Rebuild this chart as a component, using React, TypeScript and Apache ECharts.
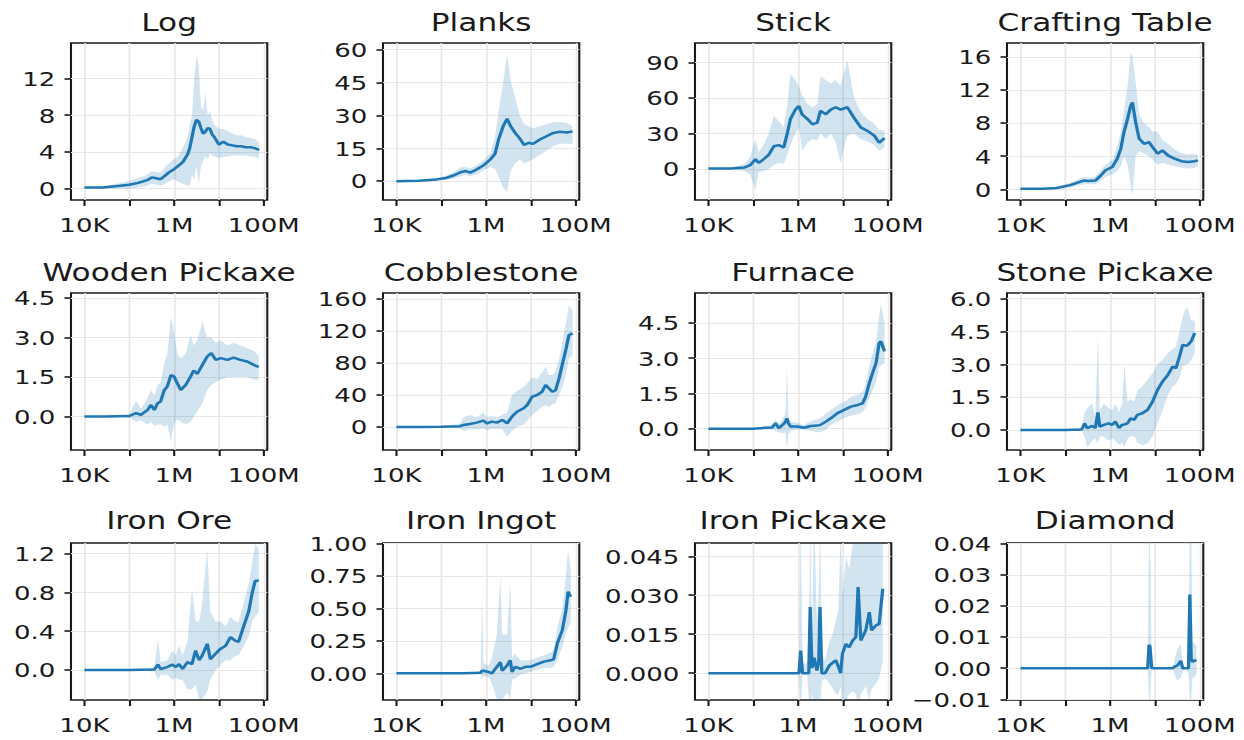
import React, { useEffect, useRef } from "react";
import * as echarts from "echarts";

// ---------- DATA (x values are log10 of environment steps) ----------
const titles = [
  "Log", "Planks", "Stick", "Crafting Table",
  "Wooden Pickaxe", "Cobblestone", "Furnace", "Stone Pickaxe",
  "Iron Ore", "Iron Ingot", "Iron Pickaxe", "Diamond",
];

const xLimits = [3.7, 8.08];
const xTickValues = [4, 5, 6, 7, 8];
const xLabelValues = [4, 6, 8];
const xLabelTexts = ["10K", "1M", "100M"];

// Log
const xLog = [4.0, 4.4, 4.8, 5.0, 5.2, 5.4, 5.5, 5.6, 5.7, 5.8, 5.9, 6.0, 6.1, 6.2, 6.3, 6.35, 6.4, 6.45, 6.5, 6.55, 6.6, 6.65, 6.7, 6.75, 6.8, 6.85, 6.9, 7.0, 7.1, 7.2, 7.3, 7.4, 7.5, 7.6, 7.7, 7.8, 7.9];
const meanLog = [0.1, 0.1, 0.3, 0.4, 0.6, 0.9, 1.2, 1.1, 1.0, 1.4, 1.8, 2.1, 2.5, 2.9, 3.7, 4.4, 5.6, 6.8, 7.5, 7.3, 6.6, 6.0, 6.2, 6.6, 6.5, 5.9, 5.6, 4.8, 5.1, 4.8, 4.7, 4.6, 4.6, 4.5, 4.5, 4.4, 4.2];
const loLog = [0.0, 0.0, 0.0, 0.0, 0.1, 0.3, 0.5, 0.4, 0.3, 0.5, 0.8, 1.0, 0.7, 0.5, 0.3, 0.2, 1.5, 1.0, 2.5, 0.5, 2.5, 3.0, 3.5, 3.2, 3.8, 3.6, 3.5, 3.3, 3.4, 3.5, 3.6, 3.6, 3.6, 3.6, 3.5, 3.4, 3.3];
const hiLog = [0.2, 0.2, 0.6, 0.8, 1.1, 1.5, 1.9, 1.8, 1.7, 2.3, 2.8, 3.2, 3.6, 4.5, 5.5, 7.0, 8.0, 12.0, 14.5, 13.5, 9.0, 8.5, 10.5, 8.0, 8.5, 7.5, 7.0, 6.5, 6.5, 6.3, 6.0, 5.8, 5.8, 5.6, 5.5, 5.4, 5.0];

// Planks
const xPlanks = [4.0, 4.5, 4.9, 5.1, 5.3, 5.45, 5.55, 5.65, 5.8, 5.95, 6.1, 6.2, 6.28, 6.38, 6.47, 6.55, 6.65, 6.75, 6.85, 6.95, 7.05, 7.2, 7.35, 7.5, 7.65, 7.8, 7.93];
const meanPlanks = [0.0, 0.2, 0.8, 1.4, 2.8, 4.2, 4.6, 3.9, 5.4, 7.3, 10, 12.5, 19, 25, 28.5, 25, 22, 19.5, 16.5, 17.5, 17, 19, 20.5, 22, 22.5, 22.2, 22.7];
const loPlanks = [0, 0, 0.2, 0.6, 1.2, 2.2, 2.8, 2.2, 3.2, 5.0, 6.5, 5.5, 2, -3, -5, 5, 8, 10, 8, 9, 10, 12, 14, 16, 17, 17, 17];
const hiPlanks = [0.3, 0.5, 1.5, 2.4, 4.5, 6.5, 6.5, 5.8, 7.5, 9.8, 13, 20, 32, 45, 58, 46, 38, 30, 26, 25, 24, 25, 26, 27, 27, 26.5, 25];

// Stick
const xStick = [4.0, 4.5, 4.8, 4.93, 5.05, 5.12, 5.23, 5.35, 5.46, 5.57, 5.68, 5.76, 5.83, 5.94, 6.02, 6.09, 6.21, 6.32, 6.43, 6.5, 6.62, 6.73, 6.84, 6.95, 7.1, 7.25, 7.4, 7.55, 7.7, 7.81, 7.93];
const meanStick = [0.2, 0.3, 1.0, 3, 8, 5, 8, 12, 19, 20, 18, 30, 42, 50, 53, 46, 42, 37.5, 39, 49, 46, 50, 52, 50, 52, 43, 35, 32, 28, 22, 26];
const loStick = [0, 0, -2, -5, -18, -3, -2, 0, 3, 5, 4, 12, 20, 30, 35, 15, 22, 25, 24, 30, 25, 30, 22, 5, 28, 30, 25, 23, 20, 15, 18];
const hiStick = [0.5, 0.8, 4, 10, 25, 14, 20, 30, 45, 40, 35, 55, 80, 75, 70, 62, 55, 52, 55, 78, 75, 72, 75, 70, 92, 60, 48, 42, 38, 33, 32];

// Crafting Table
const xTable = [4.0, 4.5, 4.81, 5.11, 5.41, 5.52, 5.67, 5.79, 5.9, 6.05, 6.16, 6.24, 6.31, 6.39, 6.46, 6.5, 6.57, 6.65, 6.76, 6.87, 6.95, 7.06, 7.17, 7.29, 7.44, 7.59, 7.74, 7.89, 7.96];
const meanTable = [0.05, 0.05, 0.15, 0.5, 1.05, 1.0, 1.05, 1.65, 2.3, 2.7, 3.7, 4.9, 6.9, 8.5, 10.1, 10.5, 8.1, 6.1, 5.5, 5.7, 5.1, 4.3, 4.7, 4.1, 3.7, 3.4, 3.3, 3.4, 3.5];
const loTable = [0, 0, 0, 0.2, 0.6, 0.6, 0.6, 1.0, 1.5, 1.8, 2.2, 2.8, 4.0, 3.0, 0.5, -0.8, 4.0, 4.6, 4.3, 4.0, 3.6, 3.0, 3.2, 3.0, 2.8, 2.6, 2.5, 2.6, 2.8];
const hiTable = [0.1, 0.1, 0.3, 0.8, 1.5, 1.4, 1.5, 2.3, 3.0, 3.5, 5.3, 7.0, 9.5, 12.5, 16.5, 16.0, 13.0, 9.0, 8.0, 7.5, 7.0, 7.0, 6.0, 5.5, 4.8, 4.4, 4.2, 4.3, 4.2];

// Wooden Pickaxe
const xWood = [4.0, 4.5, 5.0, 5.15, 5.26, 5.41, 5.48, 5.56, 5.63, 5.7, 5.78, 5.85, 5.93, 6.0, 6.07, 6.15, 6.26, 6.37, 6.44, 6.52, 6.63, 6.74, 6.83, 6.93, 7.04, 7.19, 7.33, 7.48, 7.63, 7.78, 7.89];
const meanWood = [0, 0, 0.02, 0.13, 0.06, 0.25, 0.44, 0.25, 0.5, 0.57, 1.0, 1.14, 1.58, 1.52, 1.27, 1.01, 1.2, 1.52, 1.75, 1.62, 1.96, 2.28, 2.41, 2.15, 2.22, 2.15, 2.24, 2.15, 2.09, 1.96, 1.88];
const loWood = [0, 0, -0.05, -0.2, -0.15, -0.3, -0.2, -0.35, -0.3, -0.3, -0.4, -0.3, -0.95, -0.3, -0.1, -0.2, -0.3, -0.2, 0.0, 0.2, 0.5, 1.0, 1.2, 1.3, 1.4, 1.5, 1.5, 1.5, 1.5, 1.4, 1.4];
const hiWood = [0.02, 0.03, 0.1, 0.6, 0.3, 0.7, 1.0, 0.8, 1.2, 1.3, 2.0, 2.4, 3.8, 3.2, 2.4, 2.2, 2.4, 3.1, 2.7, 2.9, 3.6, 3.0, 3.0, 2.8, 2.9, 2.7, 2.8, 2.7, 2.6, 2.5, 2.3];

// Cobblestone
const xCobble = [4.0, 4.5, 5.0, 5.42, 5.5, 5.64, 5.79, 5.94, 6.02, 6.13, 6.24, 6.36, 6.47, 6.58, 6.69, 6.84, 6.92, 7.03, 7.14, 7.25, 7.33, 7.4, 7.48, 7.55, 7.63, 7.7, 7.78, 7.85, 7.93];
const meanCobble = [0, 0, 0.3, 1.0, 2.5, 3.8, 5.4, 8, 4.6, 6.7, 5.4, 8.8, 4.6, 13, 19, 23.4, 27.6, 38, 40, 44, 52.6, 48.5, 44, 46, 61, 77.7, 96.5, 115, 117];
const loCobble = [0, 0, -0.5, -2, -5, -3, -3, -2, -4, -2, -3, -3, -12, -5, 0, 3, 8, 15, 20, 25, 27, 25, 28, 30, 40, 50, 65, 85, 90];
const hiCobble = [0.3, 0.5, 1.5, 4, 12, 15, 12, 18, 12, 14, 12, 15, 18, 40, 45, 50, 55, 62, 60, 68, 75, 65, 65, 70, 85, 105, 130, 152, 145];

// Furnace
const xFurnace = [4.0, 4.5, 5.0, 5.42, 5.5, 5.57, 5.68, 5.72, 5.75, 5.78, 5.83, 5.98, 6.13, 6.28, 6.43, 6.5, 6.62, 6.73, 6.88, 7.03, 7.18, 7.33, 7.44, 7.51, 7.59, 7.66, 7.74, 7.81, 7.85, 7.93];
const meanFurnace = [0, 0, 0, 0.05, 0.23, 0.02, 0.2, 0.3, 0.44, 0.25, 0.09, 0.09, 0.04, 0.11, 0.13, 0.16, 0.3, 0.44, 0.66, 0.8, 0.94, 1.01, 1.08, 1.37, 1.94, 2.36, 2.79, 3.65, 3.72, 3.29];
const loFurnace = [0, 0, 0, -0.05, -0.1, -0.15, -0.2, -0.15, -0.91, -0.25, -0.1, -0.05, -0.05, -0.1, -0.15, -0.15, -0.05, 0.15, 0.3, 0.45, 0.55, 0.6, 0.7, 0.9, 1.3, 1.6, 2.0, 2.6, 2.7, 2.8];
const hiFurnace = [0, 0, 0.02, 0.15, 0.4, 0.2, 0.5, 0.6, 2.6, 0.6, 0.3, 0.25, 0.15, 0.3, 0.4, 0.45, 0.65, 0.8, 1.0, 1.15, 1.35, 1.45, 1.55, 1.9, 2.7, 3.2, 3.7, 4.8, 5.3, 4.5];

// Stone Pickaxe
const xStone = [4.0, 4.5, 5.0, 5.37, 5.43, 5.49, 5.6, 5.67, 5.73, 5.77, 5.86, 5.97, 6.05, 6.12, 6.2, 6.27, 6.32, 6.39, 6.46, 6.54, 6.61, 6.72, 6.84, 6.95, 7.06, 7.17, 7.29, 7.4, 7.47, 7.55, 7.62, 7.7, 7.74, 7.81, 7.89];
const meanStone = [0, 0, 0, 0.02, 0.3, 0.08, 0.18, 0.08, 0.8, 0.15, 0.23, 0.3, 0.23, 0.38, 0.08, 0.23, 0.25, 0.3, 0.53, 0.46, 0.69, 0.76, 0.92, 1.3, 1.83, 2.21, 2.52, 2.9, 2.82, 3.36, 3.89, 3.85, 3.89, 4.05, 4.43];
const loStone = [0, 0, 0, -0.05, -0.3, -0.8, -0.5, -0.4, -0.6, -0.3, -0.3, -0.5, -0.4, -0.5, -0.7, -0.6, -0.8, -0.4, -0.3, -0.3, -0.6, -0.7, -0.6, -0.3, 0.3, 0.9, 1.6, 2.0, 2.1, 2.4, 2.9, 3.0, 3.0, 3.2, 3.5];
const hiStone = [0, 0, 0.02, 0.1, 0.8, 1.0, 1.2, 0.6, 4.3, 0.9, 1.2, 1.0, 0.9, 1.2, 0.8, 1.2, 3.0, 1.3, 1.4, 1.3, 1.8, 2.0, 2.3, 2.6, 3.0, 3.2, 3.5, 3.7, 3.8, 4.5, 5.2, 5.6, 5.5, 5.0, 5.0];

// Iron Ore
const xOre = [4.0, 4.5, 5.0, 5.56, 5.64, 5.7, 5.85, 5.96, 6.04, 6.11, 6.19, 6.3, 6.4, 6.48, 6.56, 6.63, 6.74, 6.81, 6.93, 7.04, 7.15, 7.26, 7.37, 7.44, 7.56, 7.67, 7.74, 7.81, 7.89];
const meanOre = [0, 0, 0, 0.005, 0.055, 0.01, 0.03, 0.055, 0.03, 0.06, 0.01, 0.08, 0.06, 0.2, 0.1, 0.15, 0.27, 0.11, 0.17, 0.22, 0.25, 0.34, 0.3, 0.29, 0.46, 0.61, 0.79, 0.92, 0.92];
const loOre = [0, 0, 0, -0.01, -0.1, -0.05, -0.05, -0.1, -0.08, -0.1, -0.1, -0.2, -0.2, -0.15, -0.3, -0.3, -0.22, -0.1, 0.0, 0.05, 0.1, 0.1, 0.15, 0.15, 0.25, 0.35, 0.5, 0.55, 0.6];
const hiOre = [0, 0, 0, 0.02, 0.32, 0.08, 0.1, 0.2, 0.15, 0.25, 0.15, 0.3, 0.85, 0.5, 0.5, 0.7, 1.25, 0.6, 0.5, 0.5, 0.45, 0.55, 0.5, 0.5, 0.7, 0.9, 1.1, 1.3, 1.25];

// Iron Ingot
const xIngot = [4.0, 4.5, 5.0, 5.5, 5.88, 5.91, 5.94, 6.06, 6.13, 6.24, 6.32, 6.36, 6.47, 6.54, 6.58, 6.65, 6.77, 6.88, 6.99, 7.14, 7.29, 7.44, 7.51, 7.59, 7.7, 7.78, 7.83, 7.89];
const meanIngot = [0, 0, 0, 0, 0.005, 0.02, 0.02, 0.01, 0, 0.05, 0.085, 0.02, 0.06, 0.1, 0.01, 0.05, 0.035, 0.05, 0.05, 0.07, 0.09, 0.1, 0.11, 0.23, 0.33, 0.48, 0.63, 0.59];
const loIngot = [0, 0, 0, 0, -0.01, -0.05, -0.02, -0.03, -0.08, -0.2, -0.2, -0.2, -0.15, -0.2, -0.05, -0.04, -0.01, 0, 0.01, 0.03, 0.04, 0.04, 0.05, 0.1, 0.2, 0.3, 0.35, 0.4];
const hiIngot = [0, 0, 0, 0, 0.02, 0.6, 0.08, 0.06, 0.12, 0.3, 0.75, 0.3, 0.3, 0.7, 0.12, 0.15, 0.1, 0.1, 0.1, 0.12, 0.14, 0.16, 0.18, 0.35, 0.5, 0.75, 0.95, 0.8];

// Iron Pickaxe
const xIronPick = [4.0, 4.5, 5.0, 5.5, 6.02, 6.06, 6.1, 6.2, 6.24, 6.27, 6.31, 6.36, 6.42, 6.46, 6.49, 6.53, 6.6, 6.7, 6.77, 6.84, 6.9, 6.95, 6.99, 7.07, 7.14, 7.22, 7.29, 7.34, 7.4, 7.51, 7.59, 7.64, 7.74, 7.81, 7.89];
const meanIronPick = [0, 0, 0, 0, 0, 0.0087, 0, 0, 0, 0.0255, 0.002, 0.006, 0.001, 0.004, 0.0255, 0, 0, 0.003, 0.004, 0.005, 0.0025, 0, 0.0075, 0.0113, 0.01, 0.0126, 0.0139, 0.0332, 0.0126, 0.0165, 0.0235, 0.0165, 0.0184, 0.019, 0.0325];
const loIronPick = [0, 0, 0, 0, 0, -0.015, 0, 0, -0.01, -0.015, -0.008, -0.012, -0.01, -0.012, -0.015, -0.003, -0.002, -0.004, -0.006, -0.008, -0.008, -0.005, -0.01, -0.01, -0.008, -0.007, -0.008, -0.012, -0.008, -0.005, -0.01, -0.006, -0.004, -0.002, 0.005];
const hiIronPick = [0, 0, 0, 0, 0, 0.06, 0.003, 0.004, 0.01, 0.06, 0.015, 0.06, 0.02, 0.03, 0.06, 0.006, 0.005, 0.012, 0.015, 0.02, 0.025, 0.055, 0.03, 0.045, 0.04, 0.05, 0.055, 0.06, 0.05, 0.055, 0.06, 0.055, 0.06, 0.06, 0.06];

// Diamond
const xDiamond = [4.0, 5.0, 6.0, 6.84, 6.87, 6.89, 6.93, 7.4, 7.44, 7.5, 7.58, 7.62, 7.7, 7.75, 7.78, 7.81, 7.84, 7.88, 7.93];
const meanDiamond = [0, 0, 0, 0, 0.0075, 0.007, 0, 0, 0.0005, 0.0008, 0.0024, 0, 0, 0, 0.0237, 0.003, 0.002, 0.0025, 0.0024];
const loDiamond = [0, 0, 0, 0, -0.01, -0.01, 0, 0, -0.002, -0.004, -0.003, -0.001, 0, -0.002, -0.01, -0.01, -0.003, -0.003, -0.002];
const hiDiamond = [0, 0, 0, 0, 0.045, 0.045, 0, 0, 0.003, 0.006, 0.008, 0.001, 0, 0.002, 0.045, 0.045, 0.008, 0.008, 0.007];

// y-axis ticks, limits and label decimals
const yTicks = [
  [0, 4, 8, 12], [0, 15, 30, 45, 60], [0, 30, 60, 90], [0, 4, 8, 12, 16],
  [0, 1.5, 3, 4.5], [0, 40, 80, 120, 160], [0, 1.5, 3, 4.5], [0, 1.5, 3, 4.5, 6],
  [0, 0.4, 0.8, 1.2], [0, 0.25, 0.5, 0.75, 1], [0, 0.015, 0.03, 0.045], [-0.01, 0, 0.01, 0.02, 0.03, 0.04],
];
const yLimits = [
  [-1.27, 15.9], [-8.6, 63], [-26.4, 106.3], [-1.3, 17.7],
  [-1.27, 4.69], [-28.8, 167.5], [-0.91, 5.78], [-0.92, 6.26],
  [-0.31, 1.31], [-0.206, 1.005], [-0.0103, 0.0501], [-0.0102, 0.0402],
];
const yDecimals = [0, 0, 0, 0, 1, 0, 1, 1, 1, 2, 3, 2];

const xs = [xLog, xPlanks, xStick, xTable, xWood, xCobble, xFurnace, xStone, xOre, xIngot, xIronPick, xDiamond];
const means = [meanLog, meanPlanks, meanStick, meanTable, meanWood, meanCobble, meanFurnace, meanStone, meanOre, meanIngot, meanIronPick, meanDiamond];
const los = [loLog, loPlanks, loStick, loTable, loWood, loCobble, loFurnace, loStone, loOre, loIngot, loIronPick, loDiamond];
const his = [hiLog, hiPlanks, hiStick, hiTable, hiWood, hiCobble, hiFurnace, hiStone, hiOre, hiIngot, hiIronPick, hiDiamond];

// ---------- LAYOUT / STYLE ----------
const STRETCH = 1.3;
const DESIGN_W = 957;
const DESIGN_H = 740;
const COL_LEFT0 = 54.6;
const COL_STEP = 240;
const ROW_TOPS = [43, 293, 543];
const TITLE_Y = [23, 272.5, 521];
const GRID_W = 151;
const GRID_H = 157;
const FONT = "'DejaVu Sans', 'Noto Sans', sans-serif";
const INK = "#1a1a1a";
const BLUE = "#1f77b4";
const GRIDLINE = "#e6e6e6";

function yFormatter(dec: number) {
  return (v: number) => {
    const s = Math.abs(v).toFixed(dec);
    return v < -1e-12 ? "\u2212" + s : s;
  };
}

export default function App() {
  const ref = useRef<HTMLDivElement>(null);
  useEffect(() => {
    if (!ref.current) return;
    const chart = echarts.init(ref.current, null, { renderer: "svg" });
    const grid: any[] = [];
    const xAxis: any[] = [];
    const yAxis: any[] = [];
    const series: any[] = [];
    const graphic: any[] = [];

    titles.forEach((title, i) => {
      const col = i % 4;
      const row = Math.floor(i / 4);
      const left = COL_LEFT0 + col * COL_STEP;
      const top = ROW_TOPS[row];
      grid.push({
        left, top, width: GRID_W, height: GRID_H,
        show: true, borderColor: INK, borderWidth: 1.6, backgroundColor: "transparent",
        containLabel: false,
      });
      xAxis.push({
        type: "value", gridIndex: i, min: xLimits[0], max: xLimits[1],
        axisLine: { show: false, onZero: false },
        axisTick: { show: true, customValues: xTickValues, length: 6, lineStyle: { color: INK, width: 1.6 } },
        axisLabel: {
          show: true, customValues: xLabelValues,
          formatter: (v: number) => {
            const k = xLabelValues.indexOf(Math.round(v));
            return k >= 0 ? xLabelTexts[k] : "";
          },
          fontSize: 20, fontFamily: FONT, color: INK, margin: 15,
        },
        splitLine: { show: true, lineStyle: { color: GRIDLINE, width: 1.2 } },
      });
      yAxis.push({
        type: "value", gridIndex: i, min: yLimits[i][0], max: yLimits[i][1],
        axisLine: { show: false, onZero: false },
        axisTick: { show: true, customValues: yTicks[i], length: 5, lineStyle: { color: INK, width: 1.6 } },
        axisLabel: {
          show: true, customValues: yTicks[i], formatter: yFormatter(yDecimals[i]),
          fontSize: 20, fontFamily: FONT, color: INK, margin: 12,
        },
        splitLine: { show: true, lineStyle: { color: GRIDLINE, width: 1.2 } },
      });
      const x = xs[i];
      const lo = los[i];
      const hi = his[i];
      series.push({
        type: "custom", xAxisIndex: i, yAxisIndex: i,
        clip: true, silent: true, z: 1,
        data: x.map((xv, k) => [xv, lo[k], hi[k]]),
        encode: { x: 0, y: [1, 2] },
        renderItem: (params: any, api: any) => {
          if (params.dataIndex !== 0) return null;
          const pts: number[][] = [];
          for (let k = 0; k < x.length; k++) pts.push(api.coord([x[k], lo[k]]));
          for (let k = x.length - 1; k >= 0; k--) pts.push(api.coord([x[k], hi[k]]));
          return {
            type: "polygon",
            shape: { points: pts },
            style: { fill: BLUE, opacity: 0.2, stroke: "none" },
          };
        },
      });
      series.push({
        type: "line", xAxisIndex: i, yAxisIndex: i,
        data: x.map((xv, k) => [xv, means[i][k]]),
        symbol: "none", silent: true,
        lineStyle: { color: BLUE, width: 2.5 },
        itemStyle: { color: BLUE },
        z: 3,
      });
      graphic.push({
        type: "text",
        x: left + GRID_W / 2,
        y: TITLE_Y[row],
        silent: true,
        style: {
          text: title, fontSize: 24, fontFamily: FONT, fill: INK,
          align: "center", verticalAlign: "middle",
          textAlign: "center", textVerticalAlign: "middle",
        },
      });
    });

    chart.setOption({
      animation: false,
      backgroundColor: "#ffffff",
      grid, xAxis, yAxis, series, graphic,
    });
    return () => chart.dispose();
  }, []);

  return (
    <div
      ref={ref}
      style={{
        position: "fixed", left: 0, top: 0,
        width: DESIGN_W, height: DESIGN_H,
        transform: `scaleX(${STRETCH})`, transformOrigin: "0 0",
        background: "#ffffff",
      }}
    />
  );
}
